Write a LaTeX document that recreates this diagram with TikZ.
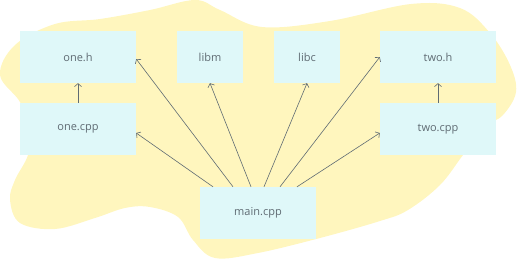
\documentclass[tikz,border=0pt]{standalone}
\usepackage{fontspec}
\setmainfont{Open Sans}
\usetikzlibrary{arrows.meta}
\definecolor{blobyellow}{HTML}{FFF6BE}
\definecolor{boxcyan}{HTML}{DFF8F9}
\definecolor{inkgray}{HTML}{5F6B73}
\begin{document}
\begin{tikzpicture}[x=1pt,y=-1pt,
  file/.style={fill=boxcyan,minimum width=116pt,minimum height=52pt,inner sep=0pt,
    text=inkgray,font=\fontsize{11}{13}\selectfont},
  lib/.style={file,minimum width=66pt},
  dep/.style={draw=inkgray,line width=0.6pt,-{Straight Barb[length=3pt,width=7pt]}}]
\useasboundingbox (0,0) rectangle (518,260);
\fill[blobyellow] plot[smooth cycle,tension=0.6] coordinates {
  (0,75) (15,45) (55,24) (100,19) (150,10) (195,0) (220,10) (262,27)
  (330,21) (411,4) (460,8) (490,33) (510,65) (516,92) (503,115) (485,127)
  (463,155) (440,185) (408,210) (380,221) (320,238) (258,253) (215,258)
  (193,240) (178,217) (150,207) (125,208) (95,218) (55,229) (20,223)
  (10,200) (15,180) (28,155) (30,130) (20,102)};

\node[file] (oneh) at (78,57) {one.h};
\node[file] (onecpp) at (78,129) {one.cpp};
\node[lib] (libm) at (210,57) {libm};
\node[lib] (libc) at (307,57) {libc};
\node[file] (twoh) at (438,57) {two.h};
\node[file] (twocpp) at (438,129) {two.cpp};
\node[file] (main) at (258,213) {main.cpp};

\draw[dep] (onecpp) -- (oneh);
\draw[dep] (twocpp) -- (twoh);
\draw[dep] ([xshift=-45pt]main.north) -- ([yshift=-4pt]onecpp.east);
\draw[dep] ([xshift=-25pt]main.north) -- ([yshift=-2pt]oneh.east);
\draw[dep] ([xshift=-7pt]main.north) -- (libm.south);
\draw[dep] ([xshift=6pt]main.north) -- (libc.south);
\draw[dep] ([xshift=22pt]main.north) -- (twoh.west);
\draw[dep] ([xshift=39pt]main.north) -- ([yshift=-4pt]twocpp.west);
\end{tikzpicture}
\end{document}
